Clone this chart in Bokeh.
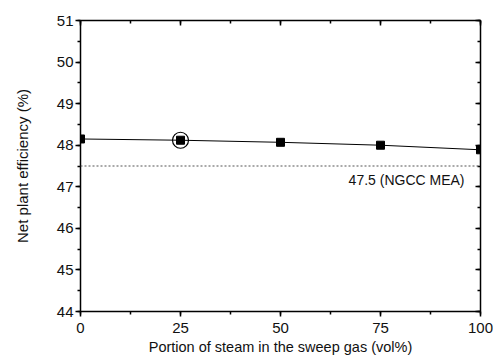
from bokeh.plotting import figure
from bokeh.models import Range1d, SingleIntervalTicker, LinearAxis, CustomJSTickFormatter, Span, Label
from bokeh.embed import file_html
from bokeh.resources import INLINE

steam = [0, 25, 50, 75, 100]
efficiency = [48.15, 48.12, 48.07, 48.00, 47.89]
highlight_x = [25]
highlight_y = [48.12]
ngcc_mea = 47.5
ngcc_label = "47.5 (NGCC MEA)"

FONT = "Liberation Sans"

p = figure(output_backend="svg", toolbar_location=None,
           x_range=Range1d(0, 100), y_range=Range1d(44, 51),
           min_border_left=80, min_border_right=13, min_border_top=20, min_border_bottom=40)
p.frame_width = 400
p.frame_height = 291
p.grid.visible = False
p.outline_line_color = None
p.background_fill_color = "white"

p.xaxis.ticker = SingleIntervalTicker(interval=25, num_minor_ticks=2)
p.yaxis.ticker = SingleIntervalTicker(interval=1, num_minor_ticks=2)

for ax in (p.xaxis[0], p.yaxis[0]):
    ax.axis_line_width = 1.5
    ax.major_tick_line_width = 1.5
    ax.minor_tick_line_width = 1.5
    ax.major_tick_out = 5
    ax.major_tick_in = 0
    ax.minor_tick_out = 3
    ax.minor_tick_in = 0
    ax.major_label_text_font = FONT
    ax.major_label_text_font_size = "15px"
    ax.major_label_text_color = "#111111"
    ax.axis_label_text_font = FONT
    ax.axis_label_text_font_style = "normal"
    ax.axis_label_text_color = "#111111"

p.xaxis.axis_label = "Portion of steam in the sweep gas (vol%)"
p.yaxis.axis_label = "Net plant efficiency (%)"
p.xaxis.axis_label_text_font_size = "14.5px"
p.yaxis.axis_label_text_font_size = "15px"
p.xaxis.major_label_standoff = 6
p.yaxis.major_label_standoff = 2
p.xaxis.axis_label_standoff = 3
p.yaxis.axis_label_standoff = 23

empty = CustomJSTickFormatter(code="return ''")
top = LinearAxis(ticker=SingleIntervalTicker(interval=25, num_minor_ticks=2), formatter=empty)
right = LinearAxis(ticker=SingleIntervalTicker(interval=1, num_minor_ticks=2), formatter=empty)
for ax in (top, right):
    ax.axis_line_width = 1.5
    ax.major_tick_line_width = 1.5
    ax.minor_tick_line_width = 1.5
    ax.major_tick_in = 5
    ax.major_tick_out = 0
    ax.minor_tick_in = 3
    ax.minor_tick_out = 0
    ax.major_label_text_font_size = "1px"
    ax.major_label_standoff = 0
p.add_layout(top, "above")
p.add_layout(right, "right")

p.add_layout(Span(location=ngcc_mea, dimension="width", line_color="#555555",
                  line_dash="2 2", line_width=1.2))
p.add_layout(Label(x=96, y=ngcc_mea, text=ngcc_label, text_align="right", text_baseline="middle",
                   y_offset=-14, text_font=FONT, text_font_size="14px", text_color="#111111"))

p.line(steam, efficiency, line_color="black", line_width=1)
p.scatter(steam, efficiency, marker="square", size=8, fill_color="black", line_color="black")
p.scatter(highlight_x, highlight_y, marker="circle", size=16, fill_color=None,
          line_color="black", line_width=1.2)

open("out.html", "w").write(file_html(p, INLINE))
